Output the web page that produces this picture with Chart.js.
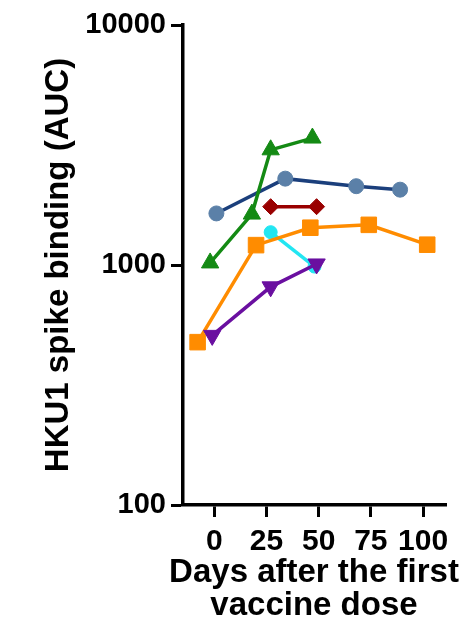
<!DOCTYPE html>
<html>
<head>
<meta charset="utf-8">
<script src="https://cdn.jsdelivr.net/npm/chart.js@4"></script>
<style>
  html, body { margin: 0; padding: 0; background: #fff; }
  canvas { display: block; }
</style>
</head>
<body>
<canvas id="c" width="469" height="620"></canvas>
<script>
// ---- data ----
const xTicks = [0, 25, 50, 75, 100];
const yTicks = [100, 1000, 10000];
const xTitle = ['Days after the first', 'vaccine dose'];
const yTitle = 'HKU1 spike binding (AUC)';

const blueDays   = [1, 34, 68, 89];
const blueAUC    = [1640, 2290, 2130, 2060];

const greenDays  = [-2, 18, 27, 47];
const greenAUC   = [1020, 1630, 3020, 3380];

const redDays    = [27, 49];
const redAUC     = [1750, 1750];

const cyanDays   = [27, 48];
const cyanAUC    = [1370, 985];

const orangeDays = [-8, 20, 46, 74, 102];
const orangeAUC  = [477, 1210, 1430, 1470, 1215];

const purpleDays = [-1, 27, 49];
const purpleAUC  = [509, 811, 1010];

const pts = (xs, ys) => xs.map((x, i) => ({ x: x, y: ys[i] }));

function series(xs, ys, line, marker, style, radius, rotation) {
  return {
    data: pts(xs, ys),
    borderColor: line,
    borderWidth: 3.5,
    backgroundColor: marker,
    pointBackgroundColor: marker,
    pointBorderColor: marker,
    pointBorderWidth: 1,
    pointStyle: style,
    pointRadius: radius,
    pointRotation: rotation || 0,
    tension: 0,
    fill: false,
    clip: false
  };
}

const ARIAL = "'Liberation Sans', Arial, Helvetica, sans-serif";
const Y_TICK_FONT = { family: ARIAL, size: 29, weight: 'bold', lineHeight: 1.0 };
const X_TICK_FONT = { family: ARIAL, size: 30, weight: 'bold', lineHeight: 1.0 };
const X_TITLE_FONT = { family: ARIAL, size: 33, weight: 'bold', lineHeight: 1.0 };
const Y_TITLE_FONT = { family: ARIAL, size: 33, weight: 'bold', lineHeight: 1.0 };

// the y axis box starts at the canvas edge so its labels and title are not clipped
const yAxisSpan = {
  id: 'yAxisSpan',
  afterLayout(chart) {
    const s = chart.scales.y;
    s.left = 0;
    s.width = s.right - s.left;
  }
};

new Chart(document.getElementById('c'), {
  type: 'line',
  data: {
    datasets: [
      // first listed is drawn on top
      series(greenDays, greenAUC, '#148a14', '#148a14', 'triangle', 10),
      series(redDays, redAUC, '#990000', '#990000', 'rectRot', 8),
      series(purpleDays, purpleAUC, '#6a0fa0', '#6a0fa0', 'triangle', 10, 180),
      series(orangeDays, orangeAUC, '#ff8c00', '#ff8c00', 'rect', 11),
      series(cyanDays, cyanAUC, '#22e6f2', '#22e6f2', 'circle', 6.5),
      series(blueDays, blueAUC, '#1b3f7c', '#5b80a8', 'circle', 7.5)
    ]
  },
  plugins: [yAxisSpan],
  options: {
    responsive: false,
    animation: false,
    // left padding centres the bottom (x-axis) title under the plot area
    layout: { padding: { left: 159, right: 0, top: 25, bottom: 0 } },
    plugins: {
      legend: { display: false },
      tooltip: { enabled: false },
      title: {
        display: true,
        position: 'bottom',
        align: 'center',
        text: xTitle,
        color: '#000',
        font: X_TITLE_FONT,
        padding: { top: 3, bottom: -2 }
      }
    },
    scales: {
      x: {
        type: 'linear',
        min: -15,
        max: 111,
        afterBuildTicks: (s) => { s.ticks = xTicks.map(v => ({ value: v })); },
        afterFit: (s) => { s.height = 48; },
        grid: { display: true, drawOnChartArea: false, drawTicks: true, tickLength: 12, tickWidth: 3, tickColor: '#000' },
        border: { display: true, width: 3.5, color: '#000' },
        ticks: { color: '#000', font: X_TICK_FONT, padding: 10, maxRotation: 0, autoSkip: false },
        title: { display: false }
      },
      y: {
        type: 'logarithmic',
        position: 'left',
        min: 100,
        max: 10000,
        afterBuildTicks: (s) => { s.ticks = yTicks.map(v => ({ value: v })); },
        afterFit: (s) => { s.width = 24; },
        grid: { display: true, drawOnChartArea: false, drawTicks: true, tickLength: 12, tickWidth: 3, tickColor: '#000' },
        border: { display: true, width: 3.5, color: '#000' },
        ticks: { color: '#000', font: Y_TICK_FONT, padding: 5, callback: (v) => String(v) },
        title: {
          display: true,
          text: yTitle,
          color: '#000',
          font: Y_TITLE_FONT,
          padding: { top: 42, bottom: 0 }
        }
      },
      // empty spacer on the right so the plot area ends where the reference's does
      spacer: {
        type: 'linear',
        position: 'right',
        display: true,
        afterFit: (s) => { s.width = 23; },
        grid: { display: false },
        border: { display: false },
        ticks: { display: false },
        title: { display: false }
      }
    }
  }
});
</script>
</body>
</html>
